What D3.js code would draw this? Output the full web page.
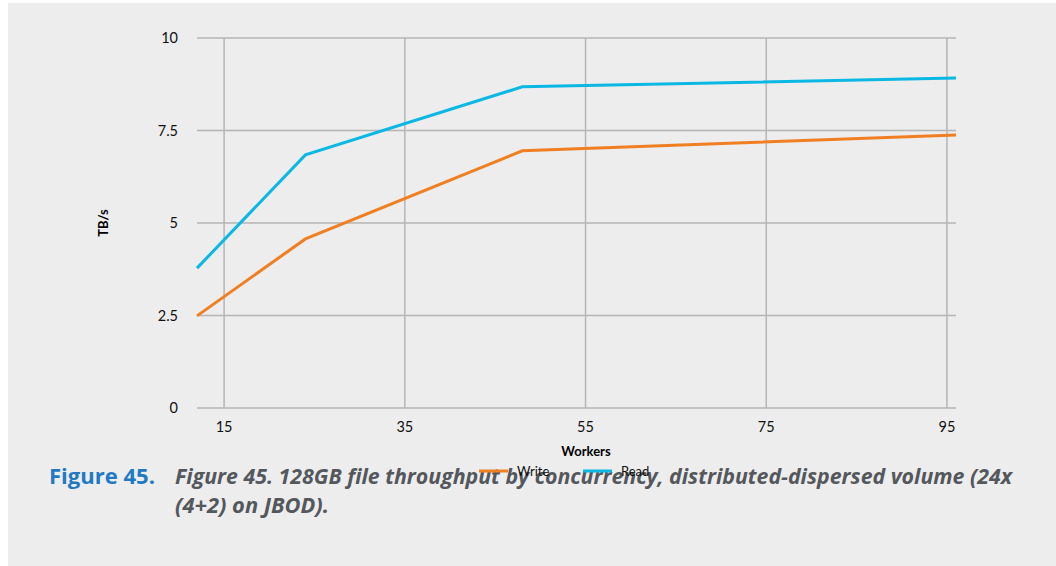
<!DOCTYPE html>
<html>
<head>
<meta charset="utf-8">
<script src="https://cdn.jsdelivr.net/npm/d3@7"></script>
<style>
  body { margin: 0; background: #fff; }
  #chart { position: absolute; left: 0; top: 0; }
</style>
</head>
<body>
<div id="chart"></div>
<script>
var workers = [12, 24, 48, 96];
var writeValues = [2.49, 4.57, 6.95, 7.38];
var readValues = [3.78, 6.84, 8.68, 8.92];
var xTicks = [15, 35, 55, 75, 95];
var yTicks = [0, 2.5, 5, 7.5, 10];
var yTickLabels = ["0", "2.5", "5", "7.5", "10"];
var seriesNames = ["Write", "Read"];
var seriesColors = ["#f07f22", "#0bb8e3"];

function createLinechart(){
    var W = 1056, H = 566;
    var plot = {left: 197, right: 956, top: 38, bottom: 408};

    var svg = d3.select("#chart").append("svg")
        .attr("width", W)
        .attr("height", H);

    // gray panel
    svg.append("rect")
        .attr("x", 8).attr("y", 3)
        .attr("width", W - 8).attr("height", H - 3)
        .attr("fill", "#ededed");

    var x = d3.scaleLinear().domain([12, 96]).range([plot.left, plot.right]);
    var y = d3.scaleLinear().domain([0, 10]).range([plot.bottom, plot.top]);

    // horizontal grid
    svg.append("g").selectAll("line")
        .data(yTicks).enter().append("line")
        .attr("x1", plot.left).attr("x2", plot.right)
        .attr("y1", function(d){ return y(d); })
        .attr("y2", function(d){ return y(d); })
        .attr("stroke", "#b5b5b5").attr("stroke-width", 1.5);

    // vertical grid
    svg.append("g").selectAll("line")
        .data(xTicks).enter().append("line")
        .attr("x1", function(d){ return x(d); })
        .attr("x2", function(d){ return x(d); })
        .attr("y1", plot.top).attr("y2", plot.bottom)
        .attr("stroke", "#b5b5b5").attr("stroke-width", 1.5);

    // y tick labels
    svg.append("g").selectAll("text")
        .data(yTicks).enter().append("text")
        .attr("x", 178)
        .attr("y", function(d){ return y(d) + 5; })
        .attr("text-anchor", "end")
        .style("font-family", "Lato, sans-serif")
        .style("font-size", "14.5px")
        .attr("fill", "#111")
        .text(function(d, i){ return yTickLabels[i]; });

    // x tick labels
    svg.append("g").selectAll("text")
        .data(xTicks).enter().append("text")
        .attr("x", function(d){ return x(d); })
        .attr("y", 432)
        .attr("text-anchor", "middle")
        .style("font-family", "Lato, sans-serif")
        .style("font-size", "14.5px")
        .attr("fill", "#111")
        .text(function(d){ return d; });

    // axis titles
    svg.append("text")
        .attr("x", 586).attr("y", 456)
        .attr("text-anchor", "middle")
        .style("font-family", "Lato, sans-serif")
        .style("font-weight", "bold")
        .style("font-size", "13px")
        .text("Workers");

    svg.append("text")
        .attr("transform", "translate(108,223) rotate(-90)")
        .attr("text-anchor", "middle")
        .style("font-family", "Lato, sans-serif")
        .style("font-weight", "bold")
        .style("font-size", "13px")
        .text("TB/s");

    var line = d3.line()
        .x(function(d){ return x(d[0]); })
        .y(function(d){ return y(d[1]); });

    var series = [writeValues, readValues];
    series.forEach(function(vals, i){
        svg.append("path")
            .datum(workers.map(function(w, j){ return [w, vals[j]]; }))
            .attr("d", line)
            .attr("fill", "none")
            .attr("stroke", seriesColors[i])
            .attr("stroke-width", 3);
    });

    // caption
    var cap = svg.append("g")
        .style("font-family", "'Open Sans', sans-serif")
        .style("font-size", "22px");
    cap.append("text")
        .attr("x", 49).attr("y", 484)
        .attr("fill", "#1f7ac2")
        .style("font-weight", "bold")
        .attr("textLength", 106)
        .attr("lengthAdjust", "spacingAndGlyphs")
        .text("Figure 45.");
    cap.append("text")
        .attr("x", 175).attr("y", 484)
        .attr("fill", "#54575c")
        .style("font-weight", "bold")
        .style("font-style", "italic")
        .attr("textLength", 837)
        .attr("lengthAdjust", "spacingAndGlyphs")
        .text("Figure 45. 128GB file throughput by concurrency, distributed-dispersed volume (24x");
    cap.append("text")
        .attr("x", 175).attr("y", 513)
        .attr("fill", "#54575c")
        .style("font-weight", "bold")
        .style("font-style", "italic")
        .attr("textLength", 154)
        .attr("lengthAdjust", "spacingAndGlyphs")
        .text("(4+2) on JBOD).");

    // legend (drawn over the caption as in the original)
    var legendX = [479, 583];
    var legend = svg.append("g").selectAll("g")
        .data(seriesNames).enter().append("g")
        .attr("transform", function(d, i){ return "translate(" + legendX[i] + ",471)"; });
    legend.append("line")
        .attr("x1", 0).attr("x2", 29)
        .attr("stroke", function(d, i){ return seriesColors[i]; })
        .attr("stroke-width", 3);
    legend.append("text")
        .attr("x", 38).attr("y", 5)
        .style("font-family", "Lato, sans-serif")
        .style("font-size", "13px")
        .attr("fill", "#111")
        .text(function(d){ return d; });
}

createLinechart();
</script>
</body>
</html>
